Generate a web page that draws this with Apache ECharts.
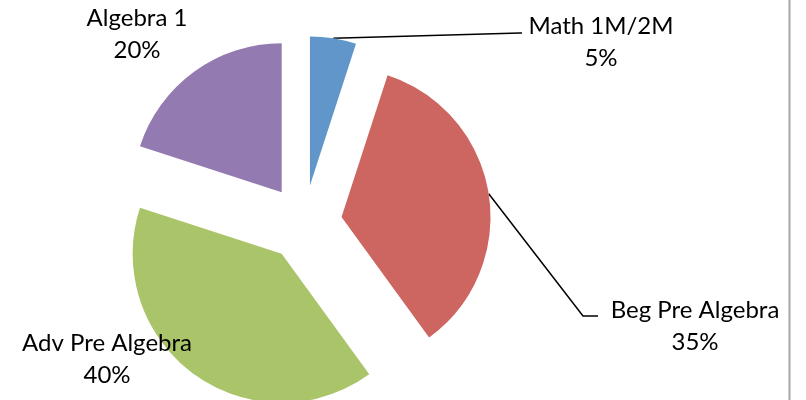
<!DOCTYPE html>
<html lang="en" style="height: 100%">
<head>
  <meta charset="utf-8">
  <title>Math placement</title>
</head>
<body style="height: 100%; margin: 0; background: #fff">
  <div id="container" style="width: 806px; height: 400px"></div>

  <script type="text/javascript" src="https://cdn.jsdelivr.net/npm/echarts@6/dist/echarts.min.js"></script>
  <script type="text/javascript">
    // chart data
    var categories = ['Math 1M/2M', 'Beg Pre Algebra', 'Adv Pre Algebra', 'Algebra 1'];
    var shares = [5, 35, 40, 20];
    var colors = ['#6096C9', '#CD6560', '#AAC46A', '#937AB1'];

    // where each label sits (box centre) and the guide line bends, px
    var labelSpots = [
      { x: 601, y: 42, line: [[520, 33], [522, 33]] },
      { x: 695, y: 326, line: [[583, 316], [598, 316]] },
      { x: 107, y: 359, line: null },
      { x: 137, y: 34, line: null }
    ];

    var cx = 304, cy = 223, radius = 149, explode = 38;

    var dom = document.getElementById('container');
    var myChart = echarts.init(dom, null, { renderer: 'canvas' });

    var total = shares.reduce(function (a, b) { return a + b; }, 0);
    var series = [];
    var acc = 0;
    shares.forEach(function (v, i) {
      // mid angle of the slice, clockwise from 12 o'clock
      var mid = (acc + v / 2) / total * Math.PI * 2;
      acc += v;
      var spot = labelSpots[i];
      series.push({
        type: 'pie',
        silent: true,
        animation: false,
        startAngle: 90,
        clockwise: true,
        radius: radius,
        center: [cx + Math.sin(mid) * explode, cy - Math.cos(mid) * explode],
        avoidLabelOverlap: false,
        itemStyle: { borderWidth: 0 },
        label: {
          show: true,
          position: 'outside',
          formatter: '{t|{b}}\n{t|{d}%}',
          color: '#000',
          fontFamily: 'Lato',
          fontSize: 24,
          lineHeight: 32,
          rich: {
            t: { align: 'center', fontFamily: 'Lato', fontSize: 24, lineHeight: 32, color: '#000' }
          }
        },
        labelLine: {
          show: true,
          length: 10,
          length2: 10,
          lineStyle: { color: '#000', width: 1.5 }
        },
        labelLayout: function (params) {
          if (params.dataIndex !== i) return {};
          var out = { x: spot.x, y: spot.y, align: 'center', verticalAlign: 'middle' };
          if (spot.line && params.labelLinePoints) {
            out.labelLinePoints = [params.labelLinePoints[0], spot.line[0], spot.line[1]];
          }
          return out;
        },
        data: categories.map(function (name, j) {
          var own = j === i;
          return {
            name: name,
            value: shares[j],
            itemStyle: { color: own ? colors[j] : 'rgba(0,0,0,0)', borderWidth: 0 },
            label: { show: own },
            labelLine: { show: own && !!spot.line }
          };
        })
      });
    });

    var option = {
      backgroundColor: '#fff',
      graphic: [
        {
          type: 'line',
          shape: { x1: 789.5, y1: 0, x2: 789.5, y2: 400 },
          style: { stroke: '#A6A6A6', lineWidth: 2 }
        }
      ],
      series: series
    };

    myChart.setOption(option);
    window.addEventListener('resize', myChart.resize);
  </script>
</body>
</html>
